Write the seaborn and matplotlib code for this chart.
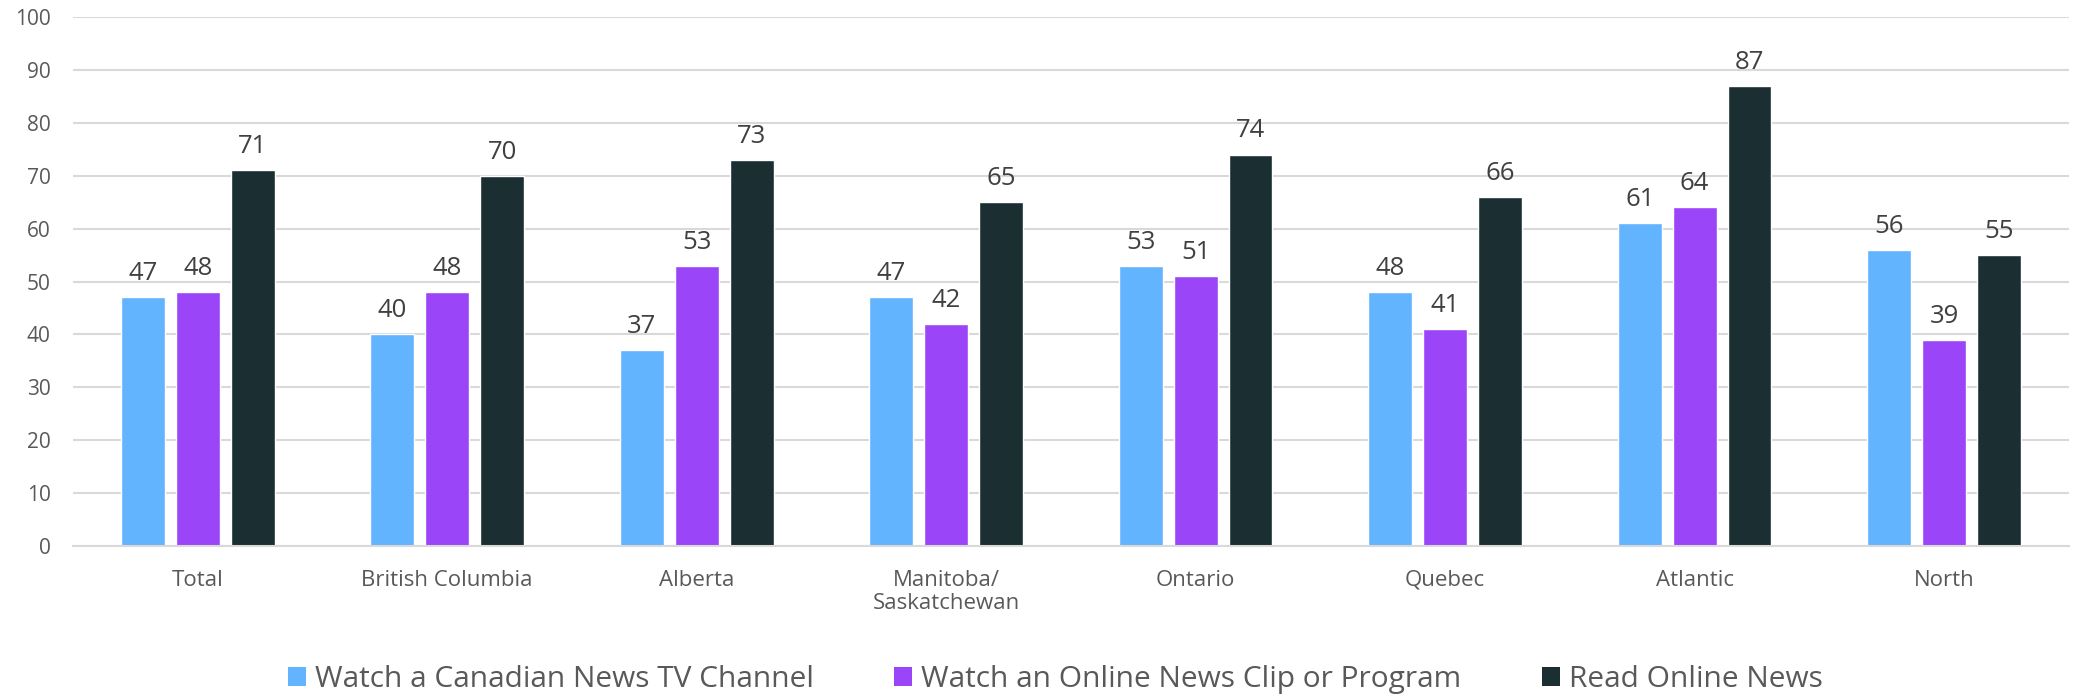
import matplotlib
matplotlib.use("Agg")
import matplotlib.pyplot as plt
import seaborn as sns
import pandas as pd
from matplotlib.patches import Patch

categories = ["Total", "British Columbia", "Alberta", "Manitoba/\nSaskatchewan",
              "Ontario", "Quebec", "Atlantic", "North"]
series_names = ["Watch a Canadian News TV Channel",
                "Watch an Online News Clip or Program",
                "Read Online News"]
tv_channel = [47, 40, 37, 47, 53, 48, 61, 56]
online_clip = [48, 48, 53, 42, 51, 41, 64, 39]
read_online = [71, 70, 73, 65, 74, 66, 87, 55]
y_ticks = [0, 10, 20, 30, 40, 50, 60, 70, 80, 90, 100]

colors = ["#62B4FF", "#9B45F8", "#1B2E32"]

rows = []
for name, vals in zip(series_names, [tv_channel, online_clip, read_online]):
    for c, v in zip(categories, vals):
        rows.append({"Region": c, "Series": name, "Value": v})
df = pd.DataFrame(rows)

sns.set_theme(style="white")
plt.rcParams["font.family"] = ["Open Sans", "DejaVu Sans"]

fig = plt.figure(figsize=(20.73, 6.98), dpi=100)
ax = fig.add_axes([0.0352, 0.2178, 0.9628, 0.7578])

sns.barplot(data=df, x="Region", y="Value", hue="Series", order=categories,
            hue_order=series_names, palette=colors, width=0.66, gap=0.2,
            saturation=1, ax=ax, legend=False, errorbar=None)

for cont in ax.containers:
    ax.bar_label(cont, padding=8, fontsize=18.5, color="#404040")

ax.set_ylim(0, 100)
ax.set_xlim(-0.5, 7.5)
ax.set_yticks(y_ticks)
ax.yaxis.grid(True, color="#D9D9D9", linewidth=1.5)
ax.set_axisbelow(True)
for s in ["top", "right", "left"]:
    ax.spines[s].set_visible(False)
ax.spines["bottom"].set_color("#D9D9D9")
ax.spines["bottom"].set_linewidth(1.5)
ax.set_xlabel("")
ax.set_ylabel("")
ax.tick_params(axis="y", labelsize=15, colors="#595959", length=0, pad=16)
ax.tick_params(axis="x", labelsize=16, colors="#595959", length=0, pad=17)
for lbl in ax.get_xticklabels():
    lbl.set_verticalalignment("top")
    lbl.set_linespacing(1.15)

handles = [Patch(facecolor=c, edgecolor="none") for c in colors]
fig.legend(handles, series_names, loc="center", bbox_to_anchor=(0.509, 0.027),
           ncol=3, frameon=False, fontsize=21.5, labelcolor="#595959",
           handlelength=0.6, handleheight=0.6, handletextpad=0.3,
           columnspacing=2.7)

fig.savefig("out.png", dpi=100)
